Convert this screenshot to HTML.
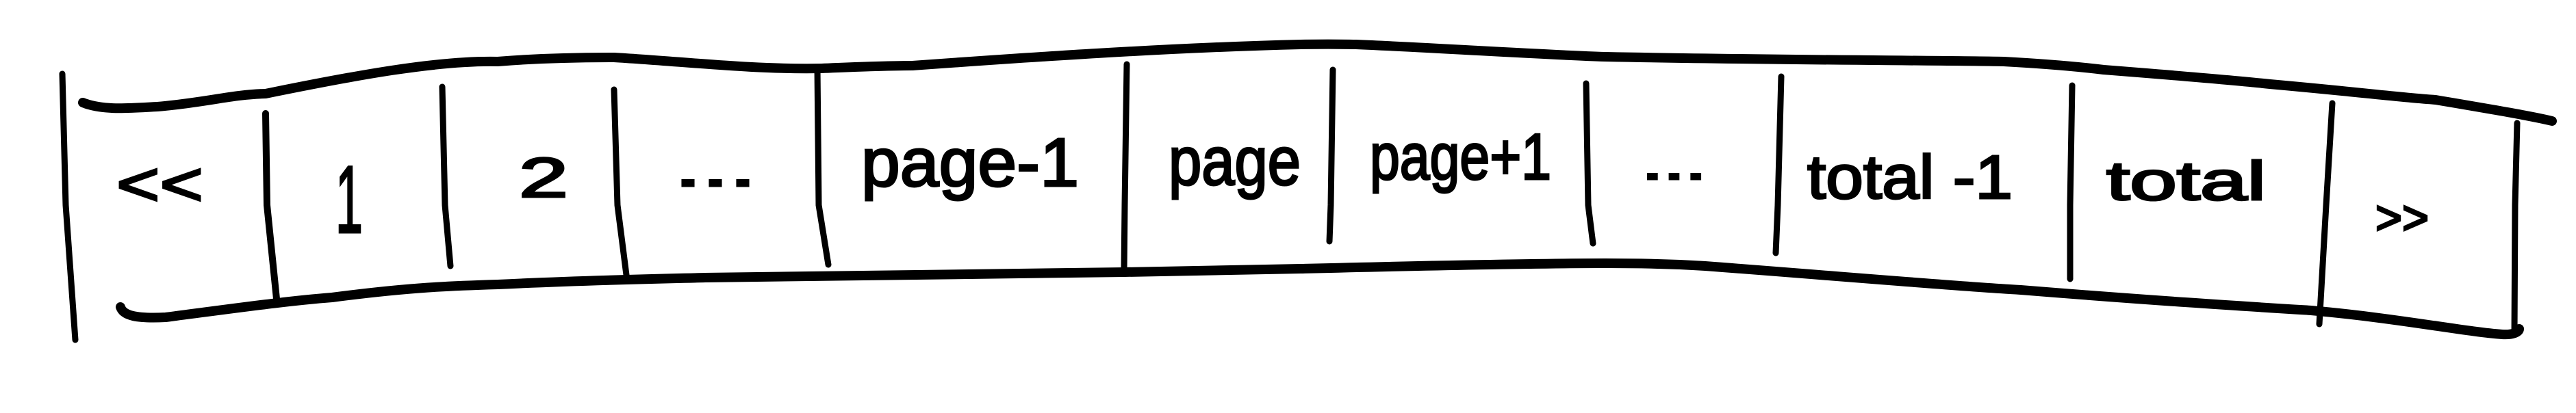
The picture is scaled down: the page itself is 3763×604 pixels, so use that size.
<!DOCTYPE html>
<html><head><meta charset="utf-8"><style>html,body{margin:0;padding:0;background:#fff}svg{display:block}</style></head>
<body>
<svg width="3763" height="604" viewBox="0 0 3763 604" xmlns="http://www.w3.org/2000/svg">
<g fill="none" stroke="#000" stroke-linecap="round" stroke-linejoin="round">
<path stroke-width="14" d="M121,150 C150,162 190,158 230,156 C300,150 340,138 388,137 C520,110 640,88 727,90 C800,84 870,84 897,84 C1000,90 1100,102 1200,100 C1250,98 1290,96 1333,96 C1500,84 1700,70 1900,65 C1950,64 1970,65 1981,65 C2100,70 2250,80 2345,83 C2600,88 2800,88 2927,90 C3000,94 3040,98 3073,102 C3200,112 3270,118 3316,123 C3450,135 3500,142 3558,146 C3640,160 3700,170 3728,177"/>
<path stroke-width="14" d="M176,449 C180,462 200,466 242,464 C350,450 420,440 485,435 C600,420 660,418 727,416 C850,410 950,408 1030,406 C1300,402 1500,399 1642,398 C1800,395 1850,394 1900,393 C2100,388 2250,385 2345,385 C2420,385 2460,387 2491,389 C2700,405 2850,418 2952,424 C3150,440 3280,448 3376,454 C3500,465 3600,485 3655,489 C3670,490 3680,486 3680,481"/>
<g stroke-width="9">
<path d="M91,108 L96,300 L110,497"/>
<path d="M388,166 L390,300 L404,437" stroke-width="10"/>
<path d="M646,127 L650,300 L658,389"/>
<path d="M897,131 L902,300 L915,402"/>
<path d="M1194,100 L1196,300 L1210,387"/>
<path d="M1646,94 L1643,300 L1642,397"/>
<path d="M1947,102 L1944,300 L1942,353"/>
<path d="M2317,122 L2320,300 L2327,356"/>
<path d="M2602,112 L2597,300 L2594,370"/>
<path d="M3027,125 L3024,300 L3024,408"/>
<path d="M3407,151 L3398,300 L3388,474"/>
<path d="M3677,180 L3674,300 L3673,489"/>
</g>
</g>
<g font-family="Liberation Sans, sans-serif" fill="#000" stroke="#000" stroke-width="3">
<text x="170" y="300" font-size="90" textLength="127" lengthAdjust="spacingAndGlyphs">&lt;&lt;</text>
<text x="490" y="340" font-size="140" textLength="40" lengthAdjust="spacingAndGlyphs">1</text>
<text x="758" y="288" font-size="82" textLength="72" lengthAdjust="spacingAndGlyphs">2</text>
<text x="985" y="272" font-size="80" textLength="120" lengthAdjust="spacingAndGlyphs">...</text>
<text x="1258" y="272" font-size="100" textLength="318" lengthAdjust="spacingAndGlyphs">page-1</text>
<text x="1707" y="270" font-size="100" textLength="193" lengthAdjust="spacingAndGlyphs">page</text>
<text x="2001" y="262" font-size="96" textLength="265" lengthAdjust="spacingAndGlyphs">page+1</text>
<text x="2398" y="262" font-size="70" textLength="95" lengthAdjust="spacingAndGlyphs">...</text>
<text x="2640" y="290" font-size="90" textLength="300" lengthAdjust="spacingAndGlyphs">total -1</text>
<text x="3077" y="292" font-size="80" textLength="233" lengthAdjust="spacingAndGlyphs">total</text>
<text x="3470" y="342" font-size="70" textLength="78" lengthAdjust="spacingAndGlyphs">&gt;&gt;</text>
</g>
</svg>
</body></html>
